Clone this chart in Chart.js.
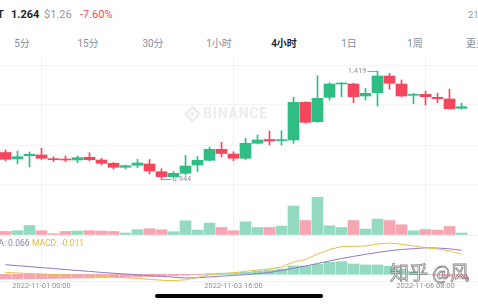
<!DOCTYPE html>
<html>
<head>
<meta charset="utf-8">
<script src="https://cdn.jsdelivr.net/npm/chart.js@4.4.0/dist/chart.umd.min.js"></script>
<style>
html,body{margin:0;padding:0;background:#fff;overflow:hidden;}
body{width:478px;height:304px;position:relative;font-family:Roboto,"Noto Sans","Noto Sans CJK SC",sans-serif;}
.t{position:absolute;white-space:nowrap;}
.tab{position:absolute;top:38px;font-size:10px;line-height:12px;color:#848e9c;transform:translateX(-50%);white-space:nowrap;font-family:Roboto,"Noto Sans CJK SC",sans-serif;}
canvas{position:absolute;left:0;}
</style>
</head>
<body>
<!-- header -->
<div class="t" style="left:-3px;top:8px;font-size:11px;line-height:14px;font-weight:700;color:#1e2329">T</div>
<div class="t" style="left:11px;top:8px;font-size:11px;line-height:14px;font-weight:700;color:#1e2329">1.264</div>
<div class="t" style="left:44px;top:8px;font-size:11px;line-height:14px;color:#929aa5">$1.26</div>
<div class="t" style="left:80px;top:8px;font-size:11px;line-height:14px;color:#f6465d">-7.60%</div>
<div class="t" style="left:468px;top:9px;font-size:9.5px;line-height:12px;color:#929aa5">21:</div>

<div class="tab" style="left:22px">5分</div>
<div class="tab" style="left:88px">15分</div>
<div class="tab" style="left:153px">30分</div>
<div class="tab" style="left:219px">1小时</div>
<div class="tab" style="left:284px;color:#1e2329;font-weight:600">4小时</div>
<div class="tab" style="left:349px">1日</div>
<div class="tab" style="left:415px">1周</div>
<div class="tab" style="left:476px">更多</div>

<canvas id="price" width="478" height="133" style="top:55px"></canvas>
<canvas id="vol" width="478" height="48" style="top:188px"></canvas>
<canvas id="macd" width="478" height="57" style="top:238px"></canvas>

<div class="t" style="left:-12px;top:238px;font-size:8.5px;line-height:10px;color:#8e84a8">DEA: 0.066</div>
<div class="t" style="left:32px;top:238px;font-size:8.5px;line-height:10px;color:#e2b93b">MACD: -0.011</div>

<div class="t" style="left:390px;top:261px;font-size:19px;line-height:22px;color:rgba(255,255,255,0.92);-webkit-text-stroke:0.8px rgba(90,90,90,0.75);font-family:'Noto Sans CJK SC',sans-serif">知乎 @风</div>
<div style="position:absolute;left:155px;top:294px;width:168px;height:4px;border-radius:2px;background:#000"></div>

<script>
// ---------- data (4h candles, 2022-10-31 12:00 onwards) ----------
const opens  = [1.0615,1.0330,1.0475,1.0506,1.0344,1.0330,1.0286,1.0405,1.0286,1.0142,0.9966,1.0054,1.0111,0.9773,0.9554,0.9703,1.0067,1.0273,1.0756,1.0550,1.0361,1.1019,1.1186,1.1133,1.1164,1.2817,1.1966,1.3037,1.3620,1.3620,1.3094,1.3238,1.3971,1.3620,1.3124,1.3168,1.3037,1.2962,1.2554];
const highs  = [1.0725,1.0681,1.0637,1.0800,1.0431,1.0462,1.0462,1.0607,1.0361,1.0186,1.0067,1.0317,1.0308,0.9905,0.9782,1.0484,1.0440,1.0857,1.1063,1.0651,1.1238,1.1383,1.1558,1.1572,1.3037,1.2844,1.3984,1.3677,1.3677,1.3651,1.3431,1.4190,1.4089,1.3795,1.3212,1.3313,1.3212,1.3387,1.2773];
const lows   = [1.0243,1.0111,0.9979,1.0308,1.0212,1.0212,1.0168,1.0243,1.0067,0.9879,0.9892,0.9949,0.9672,0.9440,0.9484,0.9629,0.9782,1.0256,1.0418,1.0256,1.0308,1.0988,1.0944,1.0944,1.1019,1.1896,1.1940,1.2918,1.3063,1.2800,1.2918,1.2655,1.3387,1.3063,1.2756,1.2699,1.2800,1.2510,1.2510];
const closes = [1.0317,1.0431,1.0537,1.0361,1.0300,1.0286,1.0387,1.0300,1.0142,0.9966,1.0037,1.0155,0.9804,0.9554,0.9703,1.0023,1.0273,1.0756,1.0572,1.0361,1.1019,1.1164,1.1120,1.1177,1.2817,1.1940,1.2993,1.3620,1.3651,1.3063,1.3212,1.3971,1.3651,1.3094,1.3168,1.3063,1.2975,1.2537,1.2624];
const vols   = [3.6,4.3,9.6,4.3,1.3,3.6,4.0,4.3,4.0,3.6,2.0,5.3,6.3,5.3,3.3,14.3,5.0,12.0,7.6,4.3,13.3,7.6,7.6,9.0,29.3,14.6,38.0,9.3,7.6,14.6,6.0,16.0,14.6,10.3,4.3,5.6,5.0,8.6,2.0];
const dif    = [0.0050,0.0036,0.0022,0.0008,-0.0003,-0.0017,-0.0030,-0.0044,-0.0058,-0.0077,-0.0096,-0.0116,-0.0138,-0.0162,-0.0173,-0.0151,-0.0088,-0.0014,0.0019,0.0041,0.0083,0.0116,0.0151,0.0201,0.0338,0.0404,0.0558,0.0682,0.0762,0.0770,0.0778,0.0833,0.0861,0.0825,0.0778,0.0734,0.0696,0.0644,0.0550];
const dea    = [0.0264,0.0237,0.0212,0.0184,0.0160,0.0132,0.0105,0.0080,0.0052,0.0030,0.0008,-0.0014,-0.0036,-0.0058,-0.0080,-0.0099,-0.0096,-0.0072,-0.0050,-0.0030,-0.0011,0.0019,0.0050,0.0107,0.0165,0.0228,0.0297,0.0366,0.0435,0.0492,0.0550,0.0600,0.0646,0.0682,0.0704,0.0729,0.0723,0.0701,0.0660];
const hist   = [-0.013,-0.013,-0.0125,-0.012,-0.0115,-0.011,-0.0105,-0.010,-0.009,-0.0085,-0.008,-0.007,-0.006,-0.005,-0.004,-0.0025,-0.001,0.002,0.003,0.004,0.0055,0.0092,0.0119,0.0147,0.0229,0.0229,0.0275,0.033,0.0348,0.0284,0.0257,0.0257,0.022,0.0143,0.0074,0.0005,-0.0027,-0.0057,-0.011];

const tickIdx    = [3, 19, 35];
const dateLabels = ['2022-11-01 00:00', '2022-11-03 16:00', '2022-11-06 08:00'];
const priceGrid  = [0.919, 1.0944, 1.2699, 1.4453];

// ---------- look ----------
const GREEN = '#2ebd85', RED = '#f6465d';
const GREEN_SOFT = '#93dac1', RED_SOFT = '#f6a6b3';
const GRID = '#f0f1f3';
const X_MIN = -5.5/12, X_MAX = X_MIN + 478/12;   // 12px per candle

Chart.defaults.font.family = 'Roboto';
const up = closes.map((c,i)=> c >= opens[i]);

function xAxis(labels){
  return {
    type:'linear', min:X_MIN, max:X_MAX, offset:false,
    grid:{color:GRID, drawTicks:false, offset:false},
    border:{display:false},
    ticks:{display:labels, padding:1, maxRotation:0, autoSkip:false, color:'#8e8e8e', font:{size:7.5},
      callback:(v)=>{ const k = tickIdx.indexOf(v); return k < 0 ? '' : dateLabels[k]; }},
    afterBuildTicks:s=>{ s.ticks = tickIdx.map(v=>({value:v})); },
    afterFit:s=>{ s.height = labels ? 14 : 0; }
  };
}
function yAxis(min, max, grid, color){
  return {
    min, max,
    grid:{color:color||GRID, drawTicks:false},
    border:{display:false},
    ticks:{display:false},
    afterBuildTicks:s=>{ s.ticks = grid.map(v=>({value:v})); },
    afterFit:s=>{ s.width = 0; }
  };
}
const base = {
  responsive:false, animation:false, devicePixelRatio:1,
  layout:{padding:0, autoPadding:false},
  plugins:{legend:{display:false}, tooltip:{enabled:false}}
};

// ---------- price panel ----------
const priceDeco = {
  id:'priceDeco',
  beforeDatasetsDraw(chart){
    const ctx = chart.ctx;
    ctx.save();
    ctx.fillStyle = '#ebecef'; ctx.strokeStyle = '#ebecef';
    // logo
    const cx = 192.5, cy = 59;
    ctx.lineWidth = 2.4;
    ctx.beginPath(); ctx.moveTo(cx, cy-7); ctx.lineTo(cx+7, cy); ctx.lineTo(cx, cy+7); ctx.lineTo(cx-7, cy); ctx.closePath(); ctx.stroke();
    ctx.beginPath(); ctx.moveTo(cx, cy-2.5); ctx.lineTo(cx+2.5, cy); ctx.lineTo(cx, cy+2.5); ctx.lineTo(cx-2.5, cy); ctx.closePath(); ctx.fill();
    ctx.font = 'bold 14px Roboto';
    if ('letterSpacing' in ctx) ctx.letterSpacing = '0.8px';
    ctx.textBaseline = 'middle';
    ctx.fillText('BINANCE', 203, cy+0.5);
    ctx.restore();
  },
  afterDatasetsDraw(chart){
    const {ctx, scales:{x, y}} = chart;
    const hi = Math.max(...highs), lo = Math.min(...lows);
    ctx.save();
    ctx.strokeStyle = '#9a9ea6'; ctx.fillStyle = '#8d9199'; ctx.lineWidth = 1;
    ctx.font = '7.5px Roboto'; ctx.textBaseline = 'middle';
    [[highs.indexOf(hi), hi], [lows.indexOf(lo), lo]].forEach(([i, v])=>{
      const px = x.getPixelForValue(i), py = Math.round(y.getPixelForValue(v)) + 0.5;
      const dir = px > chart.width/2 ? -1 : 1;
      ctx.beginPath(); ctx.moveTo(px, py); ctx.lineTo(px + dir*10, py); ctx.stroke();
      ctx.textAlign = dir < 0 ? 'right' : 'left';
      ctx.fillText(v.toFixed(3), px + dir*11, py);
    });
    ctx.restore();
  }
};

new Chart(document.getElementById('price'), {
  type:'bar',
  data:{datasets:[
    {data:lows.map((l,i)=>({x:i, y:[l, highs[i]]})), backgroundColor:up.map(u=>u?GREEN:RED), barThickness:1, grouped:false, order:2},
    {data:opens.map((o,i)=>({x:i, y:[o, closes[i]]})), backgroundColor:up.map(u=>u?GREEN:RED), barThickness:11, minBarLength:1, grouped:false, order:1}
  ]},
  options:{...base, scales:{x:xAxis(false), y:yAxis(0.9058, 1.4892, priceGrid, '#f3f4f6')}},
  plugins:[priceDeco]
});

// ---------- volume panel ----------
new Chart(document.getElementById('vol'), {
  type:'bar',
  data:{datasets:[
    {data:vols.map((v,i)=>({x:i, y:v})), backgroundColor:up.map(u=>u?GREEN_SOFT:RED_SOFT), barThickness:11, grouped:false}
  ]},
  options:{...base, layout:{padding:{bottom:1}, autoPadding:false}, scales:{x:xAxis(false), y:yAxis(0, 47.4, [0])}}
});

// ---------- MACD panel ----------
new Chart(document.getElementById('macd'), {
  type:'bar',
  data:{datasets:[
    {type:'line', data:dif.map((v,i)=>({x:i, y:v})), borderColor:'#e8bf45', borderWidth:1, pointRadius:0, tension:0, order:0},
    {type:'line', data:dea.map((v,i)=>({x:i, y:v})), borderColor:'#9079c4', borderWidth:1, pointRadius:0, tension:0, order:0},
    {data:hist.map((v,i)=>({x:i, y:v})), backgroundColor:hist.map(v=>v>=0?GREEN_SOFT:RED_SOFT), barThickness:11, grouped:false, order:1}
  ]},
  options:{...base, scales:{x:xAxis(true), y:yAxis(-0.0184, 0.0998, [-0.0184])}}
});
</script>
</body>
</html>
